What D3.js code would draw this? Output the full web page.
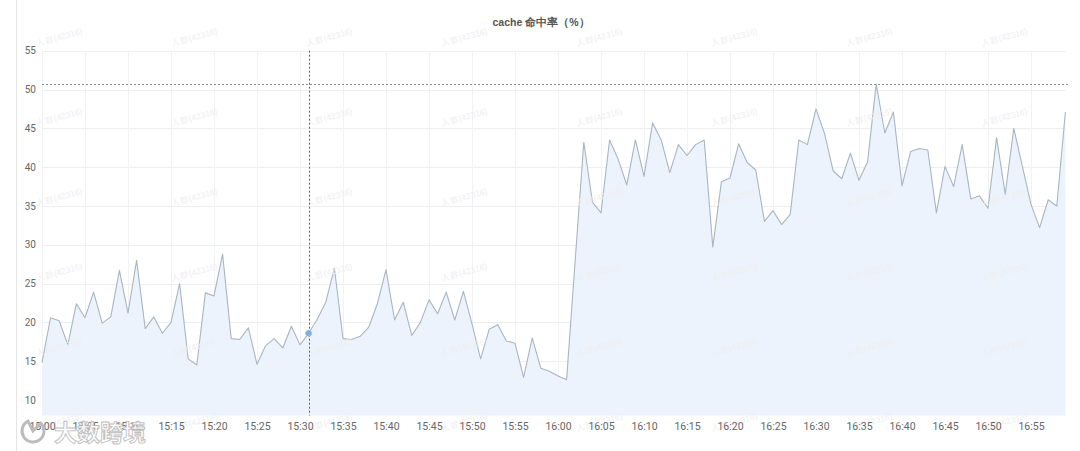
<!DOCTYPE html>
<html>
<head>
<meta charset="utf-8">
<script src="https://cdn.jsdelivr.net/npm/d3@7"></script>
<style>
  html, body { margin: 0; padding: 0; background: #ffffff; }
  svg { display: block; font-family: "Liberation Sans", Arial, sans-serif; }
</style>
</head>
<body>
<svg id="chart" width="1080" height="451"></svg>
<script>
// ---- data ----
const chartTitle = "cache 命中率（%）";
const startTime = "15:00";
const endTime = "16:59";
const hitRate = [
  14.8, 20.6, 20.2, 17.1, 22.4, 20.6, 23.9, 19.9, 20.7, 26.7,
  21.2, 28.0, 19.2, 20.7, 18.6, 20.0, 25.0, 15.3, 14.5, 23.8,
  23.4, 28.8, 17.9, 17.8, 19.3, 14.6, 17.0, 17.9, 16.7, 19.5,
  17.1, 18.6, 20.4, 22.6, 27.0, 17.9, 17.8, 18.2, 19.4, 22.4,
  26.8, 20.3, 22.6, 18.3, 20.0, 22.9, 21.1, 23.9, 20.3, 24.0,
  19.8, 15.3, 19.1, 19.7, 17.6, 17.3, 12.9, 18.0, 14.1, 13.7,
  13.1, 12.6, 28.0, 43.2, 35.5, 34.1, 43.5, 41.0, 37.7, 43.5,
  38.8, 45.7, 43.5, 39.3, 42.9, 41.5, 42.9, 43.5, 29.7, 38.1,
  38.6, 43.0, 40.6, 39.6, 33.0, 34.4, 32.6, 33.9, 43.5, 42.9,
  47.5, 44.3, 39.5, 38.5, 41.8, 38.3, 40.7, 50.7, 44.4, 47.1,
  37.6, 42.0, 42.4, 42.2, 34.1, 40.1, 37.5, 42.9, 35.9, 36.3,
  34.7, 43.8, 36.5, 45.0, 40.1, 35.2, 32.2, 35.8, 35.0, 47.1
];
const xTickLabels = ["15:00","15:05","15:10","15:15","15:20","15:25","15:30","15:35","15:40","15:45","15:50","15:55",
                     "16:00","16:05","16:10","16:15","16:20","16:25","16:30","16:35","16:40","16:45","16:50","16:55"];
const yTickValues = [10, 15, 20, 25, 30, 35, 40, 45, 50, 55];
const markLineValue = 50.7;
const cursorTime = "15:31";
const watermarkText = "人群(42316)";
const logoText = "大数跨境";

// ---- setup ----
const svg = d3.select("#chart");
const parse = d3.timeParse("%H:%M");
const t0 = parse(startTime);
const times = hitRate.map((_, i) => d3.timeMinute.offset(t0, i));
const data = hitRate.map((v, i) => ({ t: times[i], v }));

const plotLeft = 42, plotRight = 1065.4, plotTop = 50.7, plotBottom = 415.5;
const x = d3.scaleTime().domain([t0, parse(endTime)]).range([plotLeft, plotRight]);
const y = d3.scaleLinear().domain([8, 55]).range([plotBottom, plotTop]);

// left border line
svg.append("line").attr("x1", 16.5).attr("x2", 16.5).attr("y1", 0).attr("y2", 451)
  .attr("stroke", "#e4e4e4").attr("stroke-width", 1);

// title
svg.append("text").attr("x", 541).attr("y", 26).attr("text-anchor", "middle")
  .attr("font-size", 10.5).attr("font-weight", "bold").attr("fill", "#555")
  .text(chartTitle);

// gridlines
const gridG = svg.append("g");
gridG.selectAll("line.h").data(yTickValues).join("line")
  .attr("x1", plotLeft).attr("x2", plotRight)
  .attr("y1", d => Math.round(y(d)) + 0.5).attr("y2", d => Math.round(y(d)) + 0.5)
  .attr("stroke", "#eeeeee");
gridG.selectAll("line.v").data(xTickLabels).join("line")
  .attr("x1", d => Math.round(x(parse(d))) + 0.5).attr("x2", d => Math.round(x(parse(d))) + 0.5)
  .attr("y1", plotTop).attr("y2", plotBottom)
  .attr("stroke", "#f1f2f4");

// area + line
const area = d3.area().x(d => x(d.t)).y0(plotBottom).y1(d => y(d.v));
const line = d3.line().x(d => x(d.t)).y(d => y(d.v));
svg.append("path").datum(data).attr("d", area).attr("fill", "#edf3fc");
svg.append("path").datum(data).attr("d", line).attr("fill", "none")
  .attr("stroke", "#a8b6c0").attr("stroke-width", 1.1).attr("stroke-linejoin", "round");

// watermarks
const wmG = svg.append("g").attr("fill", "#eeeef1").attr("font-size", 8.5);
const wmRows = [40, 120, 200, 275, 350, 425];
const wmCols = [60, 195, 330, 465, 600, 735, 870, 1005];
wmRows.forEach((ry) => {
  wmCols.forEach(cx => {
    wmG.append("text").attr("x", cx).attr("y", ry)
      .attr("transform", `rotate(-15 ${cx} ${ry})`).attr("text-anchor", "middle")
      .text(watermarkText);
  });
});

// mark line (dashed)
svg.append("line").attr("x1", plotLeft).attr("x2", plotRight + 4)
  .attr("y1", Math.round(y(markLineValue)) + 0.5).attr("y2", Math.round(y(markLineValue)) + 0.5)
  .attr("stroke", "#8a8f96").attr("stroke-width", 1).attr("stroke-dasharray", "2,2");

// cursor line
const ct = parse(cursorTime);
const cIdx = times.findIndex(t => +t === +ct);
svg.append("line").attr("x1", Math.round(x(ct)) + 0.5).attr("x2", Math.round(x(ct)) + 0.5)
  .attr("y1", plotTop).attr("y2", plotBottom)
  .attr("stroke", "#5c6169").attr("stroke-width", 1).attr("stroke-dasharray", "2,2");
svg.append("circle").attr("cx", x(ct)).attr("cy", y(hitRate[cIdx])).attr("r", 3)
  .attr("fill", "#7ab0e0").attr("stroke", "#9cc4ea").attr("stroke-width", 1);

// y axis
const yAxis = d3.axisLeft(y).tickValues(yTickValues).tickSize(0).tickPadding(0);
const yG = svg.append("g").attr("transform", "translate(36,0)").call(yAxis);
yG.select(".domain").remove();
yG.selectAll("text").attr("font-size", 10).attr("fill", "#666").attr("font-family", "Roboto, 'Liberation Sans', sans-serif");

// x axis
const xAxis = d3.axisBottom(x).tickValues(xTickLabels.map(parse)).tickFormat(d3.timeFormat("%H:%M")).tickSize(0).tickPadding(0);
const xG = svg.append("g").attr("transform", "translate(0,423)").call(xAxis);
xG.select(".domain").remove();
xG.selectAll("text").attr("font-size", 10.5).attr("fill", "#666").attr("font-family", "Roboto, 'Liberation Sans', sans-serif");

// logo watermark
const logoG = svg.append("g");
logoG.append("path").attr("d", d3.arc()({innerRadius: 0, outerRadius: 11, startAngle: Math.PI * 0.25, endAngle: Math.PI * 1.85}))
  .attr("transform", "translate(33,431)").attr("fill", "none").attr("stroke", "#bbb").attr("stroke-width", 3);
logoG.append("text").attr("x", 54).attr("y", 441).attr("font-size", 23).attr("font-weight", "bold")
  .attr("fill", "#ffffff").attr("stroke", "#b8b8b8").attr("stroke-width", 0.9)
  .attr("font-family", "'Noto Sans CJK SC', sans-serif").attr("opacity", 0.9)
  .text(logoText);
</script>
</body>
</html>
